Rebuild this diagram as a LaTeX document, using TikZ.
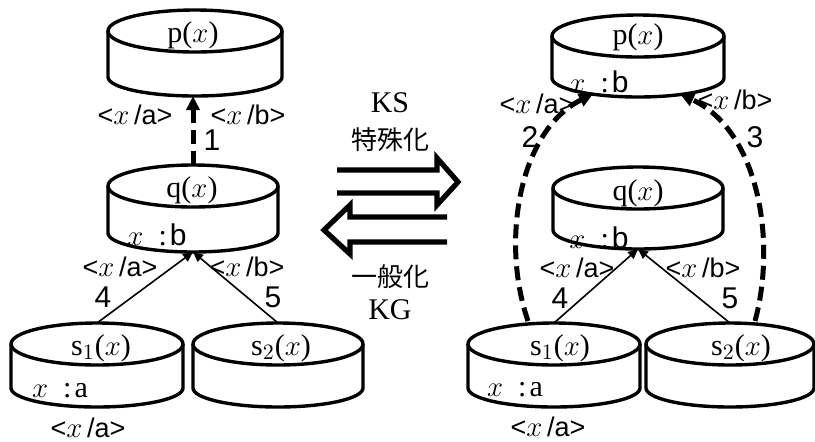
\documentclass[tikz,border=0pt]{standalone}
\usepackage{fontspec}
\setmainfont{Liberation Serif}
\newfontfamily\hsans{Liberation Sans}
\newfontfamily\jpfont{Noto Sans CJK JP}
\usetikzlibrary{arrows.meta,calc}

% substitution label  <x /a>
\newcommand\xsub[1]{{\hsans<}$x$\,{\hsans/#1>}}
% binding inside a store  x : b
\newcommand\xval[1]{$x$\hspace{0.5em}:\hspace{0.1em}#1}

\tikzset{
  drumbox/.style={rectangle, draw=none, inner sep=0pt, outer sep=0pt},
  drumline/.style={line width=1.7pt},
  txt/.style={inner sep=0pt, font=\fontsize{15}{17}\selectfont},
  lab/.style={inner sep=0pt, font=\fontsize{13.5}{16}\selectfont},
  num/.style={inner sep=0pt, font=\hsans\fontsize{15}{17}\selectfont},
  jp/.style={inner sep=0pt, font=\jpfont\fontsize{13}{15}\selectfont},
  link/.style={line width=0.8pt, -{Triangle[length=5pt,width=4.5pt]}},
  dlink/.style={line width=2.5pt, dash pattern=on 7pt off 3.5pt,
                -{Triangle[length=7pt,width=6.5pt]}},
  bigarrow/.style={line width=2.6pt, line join=miter},
}

% a drum (cylinder store): name, centre x, top-ellipse y, bottom y, x radius
\newcommand\drum[5]{%
  \node[drumbox, minimum width=#5pt, minimum height={(#4-#3+40)*0.5pt}]
    (#1) at (#2,{(#3+#4)/2-1}) {};
  \draw[drumline] (#2,#3) ellipse [x radius=#5, y radius=21];
  \draw[drumline] (#2-#5,#3) -- (#2-#5,#4)
    arc [start angle=180, end angle=0, x radius=#5, y radius=19]
    -- (#2+#5,#3);
}

\begin{document}
\begin{tikzpicture}[x=0.5pt,y=-0.5pt]
\useasboundingbox (0,0) rectangle (815,441);

% ---------- general program (left) ----------
\drum{lp}{195}{31}{77}{87}
\drum{lq}{193}{186}{233}{85}
\drum{ls1}{97}{344}{388}{86}
\drum{ls2}{278}{344}{388}{85}

\node[txt] (lpt)  at (193,35)  {p($x$)};
\node[txt] (lqt)  at (192,190) {q($x$)};
\node[txt] (lqv)  at (157,235) {\xval{\hsans b}};
\node[txt] (ls1t) at (101,348) {s$_1$($x$)};
\node[txt] (ls1v) at (60,391)  {\xval{a}};
\node[txt] (ls2t) at (281,348) {s$_2$($x$)};

\node[lab] (lpa)  at (135,115) {\xsub{a}};
\node[lab] (lpb)  at (248,115) {\xsub{b}};
\node[num] (n1)   at (212,140) {1};
\node[lab] (lqa)  at (120,267) {\xsub{a}};
\node[lab] (lqb)  at (247,267) {\xsub{b}};
\node[num] (n4)   at (103,297) {4};
\node[num] (n5)   at (273,297) {5};
\node[lab] (ls1a) at (88,428)  {\xsub{a}};

\draw[dlink] (lq.north) -- (lq.north |- lp.south);
\draw[link] (ls1.north) -- (lq.south);
\draw[link] (ls2.north) -- (lq.south);

% ---------- specialised program (right) ----------
\drum{rp}{638}{36}{78}{86}
\drum{rq}{638}{188}{230}{85}
\drum{rs1}{554}{344}{388}{86}
\drum{rs2}{730}{344}{388}{84}

\node[txt] (rpt)  at (638,37)  {p($x$)};
\node[txt] (rpv)  at (599,82)  {\xval{\hsans b}};
\node[txt] (rqt)  at (638,193) {q($x$)};
\node[txt] (rqv)  at (599,238) {\xval{\hsans b}};
\node[txt] (rs1t) at (560,348) {s$_1$($x$)};
\node[txt] (rs1v) at (515,390) {\xval{a}};
\node[txt] (rs2t) at (741,348) {s$_2$($x$)};

\node[lab] (rpa)  at (537,104) {\xsub{a}};
\node[lab] (rpb)  at (735,100) {\xsub{b}};
\node[num] (n2)   at (530,137) {2};
\node[num] (n3)   at (755,137) {3};
\node[lab] (rqa)  at (577,268) {\xsub{a}};
\node[lab] (rqb)  at (703,268) {\xsub{b}};
\node[num] (rn4)  at (560,298) {4};
\node[num] (rn5)  at (730,298) {5};
\node[lab] (rs1a) at (548,427) {\xsub{a}};

\draw[link] (rs1.north) -- (rq.south);
\draw[link] (rs2.north) -- (rq.south);
\draw[dlink] ($(rs1.north)+(-26,-2)$)
  .. controls ($(rs1.north)+(-54,-83)$) and ($(rp.south)+(-118,33)$)
  .. ($(rp.south)+(-45,-3)$);
\draw[dlink] ($(rs2.north)+(25,-2)$)
  .. controls ($(rs2.north)+(47,-83)$) and ($(rp.south)+(120,33)$)
  .. ($(rp.south)+(42,-3)$);

% ---------- transformation arrows (middle) ----------
\node[txt] (ks)  at (390,103) {KS};
\node[jp]  (tok) at (390,140) {特殊化};
\node[jp]  (ipp) at (390,277) {一般化};
\node[txt] (kg)  at (390,310) {KG};

\draw[bigarrow] (337,170) -- (437,170) -- (437,158) -- (458,182)
  -- (437,205) -- (437,193) -- (337,193);
\draw[bigarrow] (447,217) -- (350,217) -- (350,205) -- (324,230)
  -- (350,254) -- (350,242) -- (447,242);
\end{tikzpicture}
\end{document}
